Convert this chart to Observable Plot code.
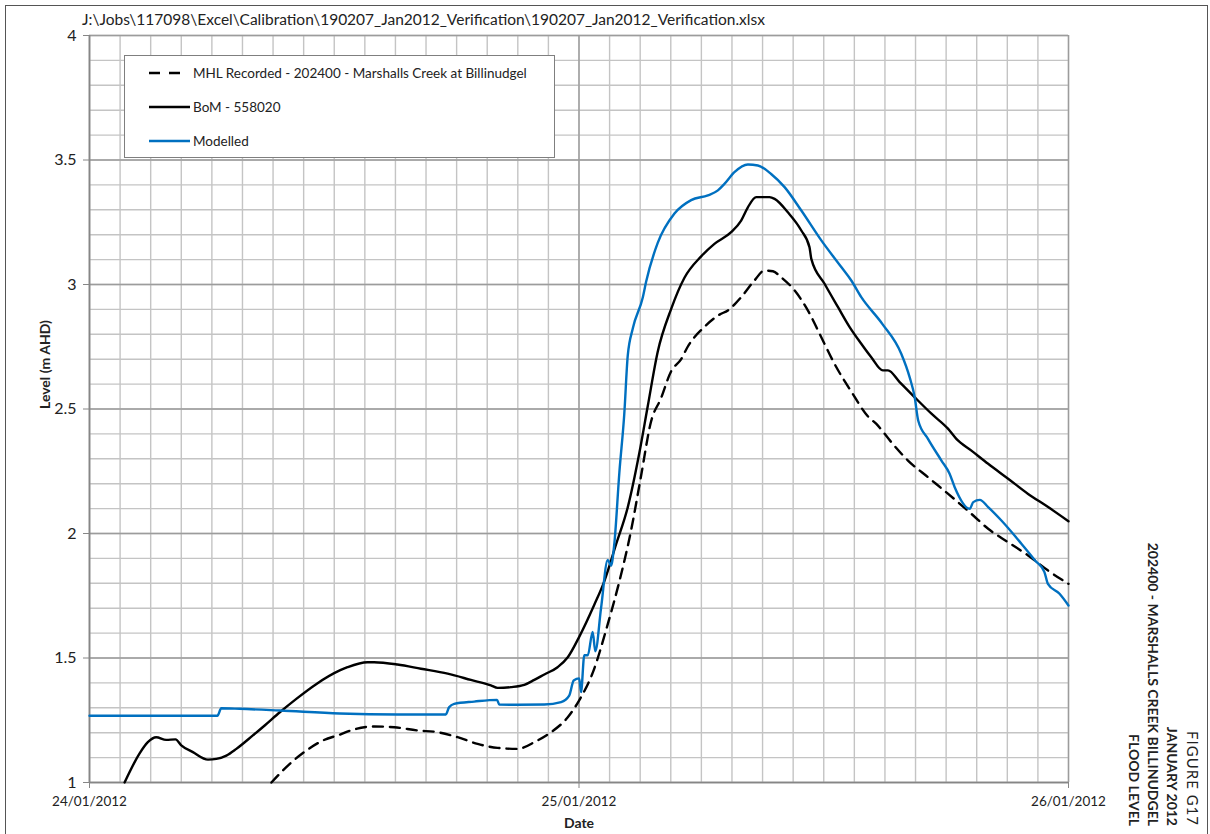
<!DOCTYPE html>
<html><head><meta charset="utf-8">
<script src="https://cdn.jsdelivr.net/npm/d3@7"></script>
<script src="https://cdn.jsdelivr.net/npm/@observablehq/plot@0.6"></script>
<style>
html,body{margin:0;padding:0;background:#fff;}
#wrap{position:relative;width:1210px;height:834px;overflow:hidden;font-family:Lato,"Liberation Sans",sans-serif;color:#222;}
#frame{position:absolute;left:5px;top:5px;width:1203px;height:850px;border:1px solid #555;box-sizing:border-box;}
#chart{position:absolute;left:0;top:0;}
#title{position:absolute;left:82px;top:10px;font-size:15.5px;white-space:nowrap;}
#legend{position:absolute;left:124px;top:55px;width:431px;height:103px;border:1.5px solid #7f7f7f;background:#fff;box-sizing:border-box;}
#legend svg{position:absolute;left:0;top:0;}
#side{position:absolute;left:0;top:0;}
</style></head>
<body><div id="wrap"><div id="frame"></div><div id="chart"></div><div id="title"></div><div id="legend"></div><svg id="side" width="1210" height="834"></svg></div>
<script>
// ---- data (hours after 24/01/2012 00:00, level m AHD) ----
const bomHours = [1.72,2.45,2.86,3.27,3.76,4.22,4.50,5.07,5.81,6.22,6.71,7.20,8.01,8.59,9.33,10.14,11.13,12.27,12.65,13.63,13.95,15.10,16.25,17.56,18.70,19.68,20.01,20.66,21.32,21.81,22.30,22.95,23.45,24.01,24.75,25.24,25.82,26.39,26.96,27.37,27.86,28.52,29.17,29.99,30.64,31.46,31.95,32.28,32.69,33.34,33.59,34.24,34.90,35.30,35.39,36.04,36.70,37.27,37.84,38.33,38.90,39.15,39.72,40.46,41.28,42.10,42.50,43.24,44.06,45.04,46.02,47.00,48.00];
const bomLevel = [1.00,1.116,1.162,1.182,1.171,1.173,1.149,1.122,1.092,1.095,1.108,1.135,1.189,1.229,1.282,1.336,1.396,1.450,1.463,1.483,1.483,1.474,1.457,1.437,1.412,1.39,1.380,1.383,1.392,1.412,1.434,1.463,1.503,1.585,1.714,1.808,1.957,2.105,2.324,2.511,2.730,2.902,3.027,3.113,3.163,3.21,3.257,3.31,3.351,3.351,3.344,3.29,3.217,3.15,3.103,3.003,2.909,2.829,2.762,2.708,2.655,2.655,2.608,2.547,2.481,2.42,2.38,2.333,2.28,2.22,2.159,2.106,2.049];

const mhlHours = [8.92,9.82,10.64,11.45,12.27,12.81,13.95,14.94,16.08,17.07,18.05,19.03,20.01,20.99,21.81,22.63,23.45,24.01,24.67,25.41,25.98,26.55,27.04,27.53,28.02,28.52,29.01,29.33,30.15,30.89,31.30,31.95,32.60,33.09,33.51,33.91,34.57,35.22,35.88,36.53,37.35,38.17,38.58,39.31,40.13,41.11,42.10,43.24,44.06,45.04,46.02,47.00,48.00];
const mhlLevel = [1.0,1.075,1.129,1.169,1.192,1.209,1.225,1.222,1.209,1.202,1.182,1.155,1.139,1.135,1.162,1.202,1.262,1.33,1.44,1.636,1.808,2.011,2.23,2.449,2.543,2.652,2.70,2.75,2.83,2.879,2.896,2.949,3.016,3.056,3.053,3.029,2.976,2.896,2.788,2.681,2.57,2.47,2.44,2.367,2.293,2.226,2.159,2.079,2.019,1.965,1.912,1.851,1.798];

const modHours = [0,6.27,6.46,7.36,9.33,12.27,15.10,17.47,17.63,17.88,18.86,19.98,20.09,20.99,22.30,23.12,23.52,23.74,24.01,24.10,24.26,24.43,24.67,24.80,25.08,25.41,25.57,25.73,25.98,26.22,26.39,26.64,27.13,27.29,27.86,28.68,29.50,30.32,30.81,31.13,31.62,32.28,32.77,33.42,34.08,34.90,35.88,36.86,37.35,37.84,38.87,39.80,40.21,40.46,40.63,41.11,41.77,42.17,42.42,43.16,43.33,43.65,44.06,44.71,45.69,46.36,46.82,46.99,47.56,48.00];
const modLevel = [1.268,1.268,1.298,1.296,1.289,1.277,1.273,1.273,1.302,1.316,1.325,1.332,1.313,1.312,1.313,1.323,1.349,1.41,1.418,1.363,1.511,1.511,1.605,1.527,1.699,1.894,1.871,1.957,2.246,2.48,2.714,2.824,2.949,3.011,3.167,3.285,3.339,3.358,3.378,3.404,3.451,3.482,3.478,3.444,3.391,3.297,3.177,3.07,3.016,2.949,2.842,2.722,2.628,2.547,2.454,2.38,2.293,2.24,2.186,2.099,2.126,2.135,2.106,2.052,1.959,1.892,1.845,1.798,1.758,1.711];

const seriesNames = ["MHL Recorded - 202400 - Marshalls Creek at Billinudgel", "BoM - 558020", "Modelled"];
const dayLabels = ["24/01/2012", "25/01/2012", "26/01/2012"];
const yTickValues = [1, 1.5, 2, 2.5, 3, 3.5, 4];
const yTickLabels = ["1", "1.5", "2", "2.5", "3", "3.5", "4"];
const titleText = "J:\\Jobs\\117098\\Excel\\Calibration\\190207_Jan2012_Verification\\190207_Jan2012_Verification.xlsx";
const sideLines = ["FIGURE G17", "JANUARY 2012", "202400 - MARSHALLS CREEK BILLINUDGEL", "FLOOD LEVEL"];
const xLabel = "Date";
const yLabel = "Level (m AHD)";

// ---- build ----
const t0 = Date.UTC(2012, 0, 24);
const toDate = h => new Date(t0 + h * 3600e3);
const mk = (hs, ls) => hs.map((h, i) => ({t: toDate(h), v: ls[i]}));
const bom = mk(bomHours, bomLevel), mhl = mk(mhlHours, mhlLevel), mod = mk(modHours, modLevel);
const dayTicks = dayLabels.map((_, i) => toDate(24 * i));
const minorX = d3.range(0, 48.001, 1.5).map(toDate);
const minorY = d3.range(10, 41).map(d => d / 10);
const BLUE = "#0070c0";

const chart = Plot.plot({
  width: 1210, height: 834,
  marginLeft: 89, marginRight: 142, marginTop: 35, marginBottom: 52,
  style: {fontFamily: "Lato, 'Liberation Sans', sans-serif", fontSize: "14px", color: "#222", background: "transparent", overflow: "visible"},
  x: {type: "utc", domain: [toDate(0), toDate(48)]},
  y: {domain: [1, 4]},
  marks: [
    Plot.ruleX(minorX, {stroke: "#c4c4c4", strokeWidth: 1.4}),
    Plot.ruleY(minorY, {stroke: "#c4c4c4", strokeWidth: 1.4}),
    Plot.ruleY(yTickValues, {stroke: "#9c9c9c", strokeWidth: 1.4}),
    Plot.ruleX(dayTicks, {stroke: "#9c9c9c", strokeWidth: 1.4}),
    Plot.ruleX([dayTicks[0]], {stroke: "#868686", strokeWidth: 1.6}),
    Plot.ruleY([1], {stroke: "#868686", strokeWidth: 1.6}),
    Plot.axisY(yTickValues, {tickSize: 6, tickPadding: 7, stroke: "#868686", tickFormat: d => yTickLabels[yTickValues.indexOf(d)], label: null, fontSize: 16}),
    Plot.axisX(dayTicks, {tickSize: 6, tickPadding: 8, stroke: "#868686", tickFormat: d => dayLabels[dayTicks.findIndex(t => +t === +d)], label: null, fontSize: 13.5}),
    Plot.line(mhl, {x: "t", y: "v", stroke: "#000", strokeWidth: 2.4, strokeDasharray: "10,7", curve: "monotone-x"}),
    Plot.line(bom, {x: "t", y: "v", stroke: "#000", strokeWidth: 2.4, curve: "monotone-x"}),
    Plot.line(mod, {x: "t", y: "v", stroke: BLUE, strokeWidth: 2.4, curve: "monotone-x"}),
    Plot.text([xLabel], {frameAnchor: "bottom", dy: 45, fontWeight: "bold", fontSize: 14}),
    Plot.text([yLabel], {frameAnchor: "left", dx: -44, rotate: -90, fontWeight: "bold", fontSize: 14})
  ]
});
document.getElementById("chart").appendChild(chart);
document.getElementById("title").textContent = titleText;

// legend
const leg = document.getElementById("legend");
const lsvg = d3.select(leg).append("svg").attr("width", 431).attr("height", 103);
const styles = [{stroke: "#000", dash: "11,9", x2: 56}, {stroke: "#000", dash: null, x2: 65}, {stroke: BLUE, dash: null, x2: 65}];
seriesNames.forEach((name, i) => {
  const y = 17 + i * 34;
  const ln = lsvg.append("line").attr("x1", 24).attr("x2", styles[i].x2).attr("y1", y).attr("y2", y)
    .attr("stroke", styles[i].stroke).attr("stroke-width", 2.6);
  if (styles[i].dash) ln.attr("stroke-dasharray", styles[i].dash);
  lsvg.append("text").attr("x", 68).attr("y", y).attr("dy", "0.35em").attr("font-size", 13.5).attr("fill", "#222").text(name);
});

// side text rotated
const side = d3.select("#side");
const sideX = [1192, 1172, 1153, 1134];
sideLines.forEach((s, i) => {
  side.append("text").attr("transform", `translate(${sideX[i]},826) rotate(90)`).attr("text-anchor", "end").attr("dy", "0.35em")
    .attr("font-size", i === 0 ? 15 : 14).attr("letter-spacing", i === 0 ? 1 : 0)
    .attr("font-weight", i === 0 ? "normal" : "bold").attr("fill", "#222").text(s);
});
</script></body></html>
